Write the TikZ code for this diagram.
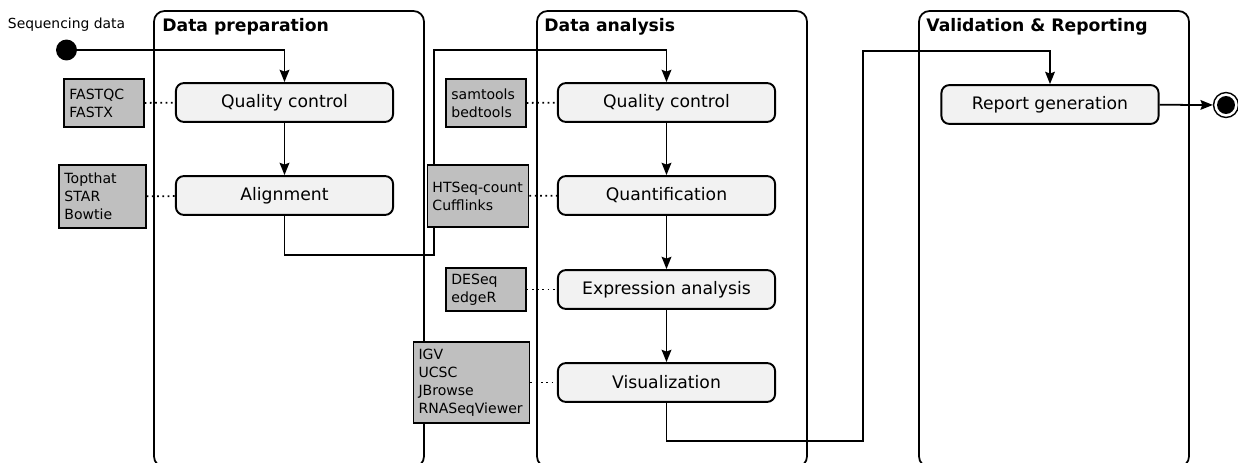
\documentclass[tikz,border=0pt]{standalone}
\usepackage{fontspec}
\setmainfont{DejaVu Sans}
\usetikzlibrary{arrows.meta,positioning,shapes}

\begin{document}
\begin{tikzpicture}[
  x=0.02cm, y=-0.02cm,
  lane/.style={draw, line width=1pt, rounded corners=6pt},
  lanetitle/.style={anchor=north west, inner sep=0pt, font=\fontsize{9.8}{11}\selectfont\bfseries},
  stage/.style={rectangle, draw, line width=1.1pt, rounded corners=4.5pt, fill=black!5,
    minimum width=123.6pt, minimum height=22.1pt, font=\fontsize{9.8}{11}\selectfont},
  tool/.style={rectangle, draw, line width=0.8pt, fill=black!25, align=left, inner xsep=3pt,
    font=\fontsize{8}{10.2}\selectfont},
  flow/.style={line width=1pt, -{Stealth[length=7pt, width=5.5pt, inset=1pt]}},
  uses/.style={line width=1pt, dotted}
]
\clip (0,0) rectangle (1238,463);

% Bahnen
\draw[lane] (154,11) rectangle (424,467);
\draw[lane] (537,11) rectangle (807,467);
\draw[lane] (919,11) rectangle (1189,467);
\node[lanetitle] at (162,18) {Data preparation};
\node[lanetitle] at (544,18) {Data analysis};
\node[lanetitle] at (926,18) {Validation \& Reporting};

% Start und Ende
\node[circle, fill=black, minimum size=11.9pt, inner sep=0pt] (start) at (66.5,50) {};
\node[above=1pt of start, font=\fontsize{7.9}{9}\selectfont] {Sequencing data};
\node[circle, draw, line width=0.8pt, minimum size=14.2pt, inner sep=0pt] (stop) at (1226,105) {};
\node[circle, fill=black, minimum size=10.2pt, inner sep=0pt] at (stop) {};

% Schritte
\node[stage] (qc1) at (284.5,102.5) {Quality control};
\node[stage] (align) at (284.5,195.5) {Alignment};
\node[stage] (qc2) at (666.5,102.5) {Quality control};
\node[stage] (quant) at (666.5,195.5) {Quantification};
\node[stage] (expr) at (666.5,289.5) {Expression analysis};
\node[stage] (vis) at (666.5,382.5) {Visualization};
\node[stage] (report) at (1050,104.5) {Report generation};

% Pfeile
\coordinate (c1) at (284.5,50);
\coordinate (c2) at (284.5,255);
\coordinate (c3) at (434,255);
\coordinate (c4) at (434,50);
\coordinate (c5) at (666.5,50);
\coordinate (c6) at (666.5,441);
\coordinate (c7) at (863,441);
\coordinate (c8) at (863,51);
\coordinate (c9) at (1050,51);
\draw[flow] (start) -- (c1) -- (qc1);
\draw[flow] (qc1) -- (align);
\draw[flow] (align.south -| c2) -- (c2) -- (c3) -- (c4) -- (c5) -- (qc2);
\draw[flow] (qc2) -- (quant);
\draw[flow] (quant) -- (expr);
\draw[flow] (expr) -- (vis);
\draw[flow] (vis) -- (c6) -- (c7) -- (c8) -- (c9) -- (report);
\draw[flow] (report) -- (stop);

% Werkzeuge
\node[tool, text width=39.4pt, minimum height=27.2pt] (t1) at (104,103) {FASTQC\\FASTX};
\node[tool, text width=43.3pt, minimum height=35.7pt] (t2) at (102.5,196.5) {Topthat\\STAR\\Bowtie};
\node[tool, text width=39.4pt, minimum height=27.2pt] (t3) at (486,103) {samtools\\bedtools};
\node[tool, text width=51.8pt, minimum height=35.2pt] (t4) at (478,196) {HTSeq-count\\Cufflinks};
\node[tool, text width=39.4pt, minimum height=24.4pt] (t5) at (486,289.5) {DESeq\\edgeR};
\node[tool, text width=60.3pt, minimum height=45.9pt] (t6) at (471.5,382.5) {IGV\\UCSC\\JBrowse\\RNASeqViewer};

\draw[uses] (t1) -- (qc1);
\draw[uses] (t2) -- (align);
\draw[uses] (t3) -- (qc2);
\draw[uses] (t4) -- (quant);
\draw[uses] (t5) -- (expr);
\draw[uses] (t6) -- (vis);

\end{tikzpicture}
\end{document}
